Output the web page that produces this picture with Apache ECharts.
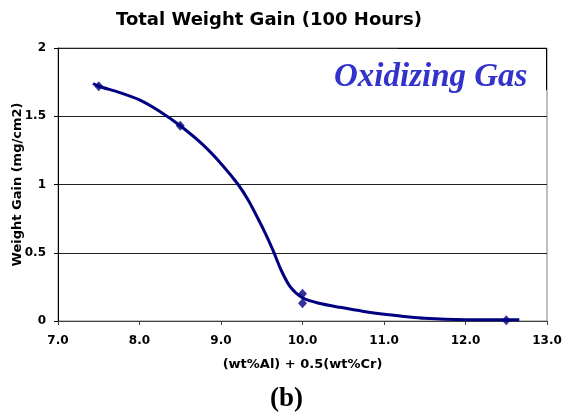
<!DOCTYPE html>
<html>
<head>
<meta charset="utf-8">
<script src="https://cdn.jsdelivr.net/npm/echarts@6/dist/echarts.min.js"></script>
<style>
html,body{margin:0;padding:0;background:#fff;}
#chart{width:566px;height:416px;}
</style>
</head>
<body>
<div id="chart"></div>
<script>
// Measured data points (markers)
var pointX = [7.5, 8.5, 10.0, 10.0, 12.5];
var pointY = [1.72, 1.43, 0.20, 0.13, 0.005];
// Smooth trend curve
var curveX = [7.43, 7.5, 7.75, 8.0, 8.25, 8.5, 8.78, 9.02, 9.21, 9.33, 9.45, 9.55, 9.64, 9.74, 9.85, 10.0, 10.2, 10.46, 10.75, 11.0, 11.5, 12.0, 12.66];
var curveY = [1.74, 1.72, 1.675, 1.62, 1.535, 1.43, 1.29, 1.14, 1.0, 0.89, 0.755, 0.635, 0.515, 0.37, 0.25, 0.17, 0.13, 0.10, 0.07, 0.05, 0.02, 0.01, 0.01];
var xTicks = [7, 8, 9, 10, 11, 12, 13];
var yTicks = [0, 0.5, 1, 1.5, 2];

var chart = echarts.init(document.getElementById('chart'), null, {renderer: 'canvas'});
var navy = '#000080';
var sans = '"DejaVu Sans", Arial, sans-serif';
var option = {
  animation: false,
  backgroundColor: '#ffffff',
  title: {
    text: 'Total Weight Gain (100 Hours)',
    left: 111,
    top: 6,
    textStyle: {fontFamily: sans, fontWeight: 'bold', fontSize: 18, color: '#000'}
  },
  grid: {left: 58, right: 19, top: 48, bottom: 95, containLabel: false, outerBoundsMode: 'none',
    show: true, borderColor: '#808080', borderWidth: 1, backgroundColor: 'transparent'},
  xAxis: {
    type: 'value', min: xTicks[0], max: xTicks[xTicks.length - 1], interval: 1,
    name: '(wt%Al) + 0.5(wt%Cr)', nameLocation: 'middle', nameGap: 37,
    nameTextStyle: {fontFamily: sans, fontWeight: 'bold', fontSize: 13, color: '#000'},
    axisLine: {show: true, onZero: false, lineStyle: {color: '#404040', width: 1}},
    axisTick: {show: true, length: 4, inside: false, lineStyle: {color: '#404040'}},
    axisLabel: {formatter: function (v) { return v.toFixed(1); }, margin: 14,
      fontFamily: sans, fontWeight: 'bold', fontSize: 12, color: '#000'},
    splitLine: {show: false}
  },
  yAxis: {
    type: 'value', min: yTicks[0], max: yTicks[yTicks.length - 1], interval: 0.5,
    name: 'Weight Gain (mg/cm2)', nameLocation: 'middle', nameGap: 34, nameRotate: 90,
    nameMoveOverlap: false,
    nameTextStyle: {fontFamily: sans, fontWeight: 'bold', fontSize: 13, color: '#000'},
    axisLine: {show: true, lineStyle: {color: '#000', width: 1}},
    axisTick: {show: true, length: 4, lineStyle: {color: '#000'}},
    axisLabel: {margin: 12, fontFamily: sans, fontWeight: 'bold', fontSize: 12, color: '#000'},
    splitLine: {show: true, lineStyle: {color: '#222', width: 1}}
  },
  series: [
    {
      type: 'line',
      data: curveX.map(function (x, i) { return [x, curveY[i]]; }),
      smooth: 0.25,
      showSymbol: false,
      symbol: 'none',
      lineStyle: {color: navy, width: 3},
      z: 3
    },
    {
      type: 'scatter',
      data: pointX.map(function (x, i) { return [x, pointY[i]]; }),
      symbol: 'diamond',
      symbolSize: [9, 10],
      itemStyle: {color: navy},
      z: 4
    }
  ],
  graphic: [
    {type: 'line', shape: {x1: 398, y1: 48.5, x2: 547, y2: 48.5}, style: {stroke: '#000', lineWidth: 1}, z: 10},
    {type: 'line', shape: {x1: 546.5, y1: 48, x2: 546.5, y2: 90}, style: {stroke: '#000', lineWidth: 1}, z: 10},
    {type: 'text', left: 334, top: 61, z: 11,
      style: {text: 'Oxidizing Gas', fill: '#3333CC', font: 'italic bold 33px "Liberation Serif", "Times New Roman", serif'}},
    {type: 'text', left: 270, top: 386, z: 11,
      style: {text: '(b)', fill: '#000', font: 'bold 27px "Liberation Serif", "Times New Roman", serif'}}
  ]
};
chart.setOption(option);
</script>
</body>
</html>
